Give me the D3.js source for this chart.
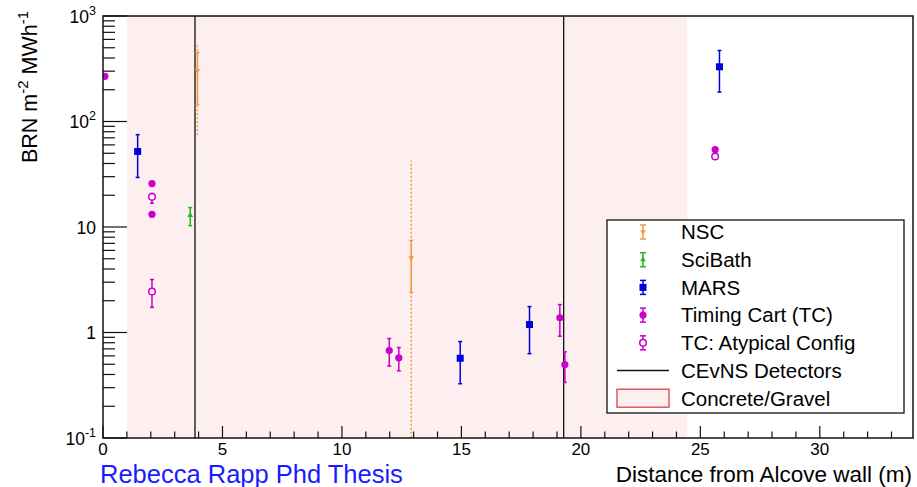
<!DOCTYPE html>
<html>
<head>
<meta charset="utf-8">
<script src="https://cdn.jsdelivr.net/npm/d3@7"></script>
<style>
  body { margin: 0; background: #fff; }
  text { font-family: "Liberation Sans", Arial, sans-serif; }
</style>
</head>
<body>
<div id="graph"></div>
<script>
// NSC (orange, down triangle) - stat and dotted systematic range
var nscX = [3.95, 12.9];
var nscY = [304, 5.1];
var nscLo = [145, 2.4];
var nscHi = [451, 7.45];
var nscSysLo = [74, 0.05];
var nscSysHi = [525, 42.7];

// SciBath (green, triangle)
var sciX = [3.65];
var sciY = [12.9];
var sciLo = [10.3];
var sciHi = [15.3];

// MARS (blue, square)
var marsX = [1.45, 14.95, 17.85, 25.8];
var marsY = [52, 0.57, 1.19, 330];
var marsLo = [29.5, 0.327, 0.63, 190];
var marsHi = [75, 0.82, 1.76, 471];

// Timing cart (magenta, filled circle); null = no error bar
var tcX = [0.08, 2.05, 2.05, 11.98, 12.38, 19.12, 19.33, 25.62];
var tcY = [268, 25.8, 13.2, 0.675, 0.575, 1.38, 0.497, 54.3];
var tcLo = [null, null, null, 0.48, 0.433, 0.923, 0.336, null];
var tcHi = [null, null, null, 0.877, 0.72, 1.84, 0.656, null];

// TC atypical config (magenta, open circle)
var atX = [2.05, 2.05, 25.62];
var atY = [19.3, 2.45, 46.6];
var atLo = [16.8, 1.73, null];
var atHi = [20.8, 3.18, null];

// CEvNS detector positions and concrete/gravel span
var detectorX = [3.85, 19.28];
var concreteX = [1, 24.45];

var xTicks = [0, 5, 10, 15, 20, 25, 30];
var yTicks = [1000, 100, 10, 1, 0.1];
var yTickBase = ["10", "10", "10", "1", "10"];
var yTickSup = ["3", "2", "", "", "-1"];

var legendNames = ["NSC", "SciBath", "MARS", "Timing Cart (TC)", "TC: Atypical Config", "CEvNS Detectors", "Concrete/Gravel"];

var colNSC = "#f39a3e", colSci = "#1fb81f", colMars = "#0000dd", colTC = "#cc00cc";

var W = 917, H = 487;
var margin = {top: 16, right: 4, bottom: 49, left: 103};
var plotW = W - margin.left - margin.right,
    plotH = H - margin.top - margin.bottom;

var svg = d3.select("#graph").append("svg")
    .attr("width", W)
    .attr("height", H);

var x = d3.scaleLinear().domain([0, 33.9]).range([margin.left, margin.left + plotW]);
var y = d3.scaleLog().domain([0.1, 1000]).range([margin.top + plotH, margin.top]);

svg.append("defs").append("clipPath").attr("id", "clip")
  .append("rect")
    .attr("x", margin.left).attr("y", margin.top)
    .attr("width", plotW).attr("height", plotH);

var plot = svg.append("g").attr("clip-path", "url(#clip)");

// Concrete region
plot.append("rect")
    .attr("x", x(concreteX[0]))
    .attr("y", margin.top)
    .attr("width", x(concreteX[1]) - x(concreteX[0]))
    .attr("height", plotH)
    .style("fill", "#fdefef");

// Detector lines
plot.selectAll(".det").data(detectorX).enter().append("line")
    .attr("x1", function(d) { return x(d); })
    .attr("x2", function(d) { return x(d); })
    .attr("y1", margin.top)
    .attr("y2", margin.top + plotH)
    .style("stroke", "#111")
    .style("stroke-width", 1.3);

// helpers
function errBars(xs, ys, lo, hi, color, caps, dash) {
    for (var i = 0; i < xs.length; i++) {
        if (lo[i] == null) continue;
        var cx = x(xs[i]);
        plot.append("line")
            .attr("x1", cx).attr("x2", cx)
            .attr("y1", y(Math.max(lo[i], 0.01))).attr("y2", y(hi[i]))
            .style("stroke", color)
            .style("stroke-width", 1.5)
            .style("stroke-dasharray", dash ? "2,2" : null);
        if (caps) {
            [lo[i], hi[i]].forEach(function(v) {
                plot.append("line")
                    .attr("x1", cx - 2).attr("x2", cx + 2)
                    .attr("y1", y(v)).attr("y2", y(v))
                    .style("stroke", color)
                    .style("stroke-width", 1.5);
            });
        }
    }
}

function symbol(g, type, cx, cy, color) {
    if (type === "circle") {
        g.append("circle").attr("cx", cx).attr("cy", cy).attr("r", 3.6).style("fill", color);
    } else if (type === "open") {
        g.append("circle").attr("cx", cx).attr("cy", cy).attr("r", 3.3)
            .style("fill", "white").style("stroke", color).style("stroke-width", 1.5);
    } else if (type === "square") {
        g.append("rect").attr("x", cx - 3.5).attr("y", cy - 3.5).attr("width", 7).attr("height", 7).style("fill", color);
    } else if (type === "tri") {
        g.append("path").attr("d", d3.symbol().type(d3.symbolTriangle).size(14)())
            .attr("transform", "translate(" + cx + "," + cy + ")").style("fill", color);
    } else if (type === "tridown") {
        g.append("path").attr("d", d3.symbol().type(d3.symbolTriangle).size(14)())
            .attr("transform", "translate(" + cx + "," + cy + ") rotate(180)").style("fill", color);
    }
}

// NSC
errBars(nscX, nscY, nscSysLo, nscSysHi, colNSC, false, true);
errBars(nscX, nscY, nscLo, nscHi, colNSC, true, false);
nscX.forEach(function(d, i) { symbol(plot, "tridown", x(d), y(nscY[i]), colNSC); });

// SciBath
errBars(sciX, sciY, sciLo, sciHi, colSci, true, false);
sciX.forEach(function(d, i) { symbol(plot, "tri", x(d), y(sciY[i]), colSci); });

// MARS
errBars(marsX, marsY, marsLo, marsHi, colMars, true, false);
marsX.forEach(function(d, i) { symbol(plot, "square", x(d), y(marsY[i]), colMars); });

// TC
errBars(tcX, tcY, tcLo, tcHi, colTC, true, false);
tcX.forEach(function(d, i) { symbol(plot, "circle", x(d), y(tcY[i]), colTC); });

// TC atypical
errBars(atX, atY, atLo, atHi, colTC, true, false);
atX.forEach(function(d, i) { symbol(plot, "open", x(d), y(atY[i]), colTC); });

// Frame
svg.append("rect")
    .attr("x", margin.left).attr("y", margin.top)
    .attr("width", plotW).attr("height", plotH)
    .style("fill", "none")
    .style("stroke", "#111")
    .style("stroke-width", 1.5);

// X ticks (major every 5, minor every 1)
var xMinor = d3.range(0, 34, 1);
svg.selectAll(".xt").data(xMinor).enter().append("line")
    .attr("x1", function(d) { return x(d); })
    .attr("x2", function(d) { return x(d); })
    .attr("y1", margin.top + plotH)
    .attr("y2", function(d) { return margin.top + plotH - (d % 5 === 0 ? 12 : 6.5); })
    .style("stroke", "#111")
    .style("stroke-width", 1.2);

svg.selectAll(".xl").data(xTicks).enter().append("text")
    .attr("x", function(d) { return x(d); })
    .attr("y", margin.top + plotH + 16.5)
    .attr("text-anchor", "middle")
    .style("font-size", "17px")
    .text(function(d) { return d; });

// Y ticks (log: major per decade, minor 2..9)
var yMinor = [];
[0.1, 1, 10, 100].forEach(function(dec) {
    for (var k = 2; k <= 9; k++) yMinor.push(dec * k);
});
svg.selectAll(".ymin").data(yMinor).enter().append("line")
    .attr("x1", margin.left).attr("x2", margin.left + 12)
    .attr("y1", function(d) { return y(d); })
    .attr("y2", function(d) { return y(d); })
    .style("stroke", "#111").style("stroke-width", 1.2);
svg.selectAll(".ymaj").data(yTicks).enter().append("line")
    .attr("x1", margin.left).attr("x2", margin.left + 24)
    .attr("y1", function(d) { return y(d); })
    .attr("y2", function(d) { return y(d); })
    .style("stroke", "#111").style("stroke-width", 1.2);

yTicks.forEach(function(d, i) {
    var t = svg.append("text")
        .attr("x", margin.left - 7)
        .attr("y", y(d) + 6.5)
        .attr("text-anchor", "end")
        .style("font-size", "17.5px");
    t.append("tspan").text(yTickBase[i]);
    if (yTickSup[i]) {
        t.append("tspan").attr("dy", -8).style("font-size", "12.5px").text(yTickSup[i]);
    }
});

// Y axis title
var yt = svg.append("text")
    .attr("transform", "translate(36.5,11) rotate(-90)")
    .attr("text-anchor", "end")
    .style("font-size", "21.5px");
yt.append("tspan").text("BRN m");
yt.append("tspan").attr("dy", -9).style("font-size", "15px").text("-2");
yt.append("tspan").attr("dy", 9).text(" MWh");
yt.append("tspan").attr("dy", -9).style("font-size", "15px").text("-1");

// X axis title
svg.append("text")
    .attr("x", 912).attr("y", 482)
    .attr("text-anchor", "end")
    .style("font-size", "22.5px")
    .text("Distance from Alcove wall (m)");

svg.append("text")
    .attr("x", 100).attr("y", 482.5)
    .style("font-size", "25.5px")
    .style("fill", "#1a1aff")
    .text("Rebecca Rapp Phd Thesis");

// Legend
var lg = svg.append("g");
lg.append("rect")
    .attr("x", 607).attr("y", 220)
    .attr("width", 297).attr("height", 193)
    .style("fill", "white")
    .style("stroke", "#111")
    .style("stroke-width", 1.3);

var rowY = d3.range(legendNames.length).map(function(i) { return 232 + i * 27.7; });
var legendSym = ["tridown", "tri", "square", "circle", "open"];
var legendCol = [colNSC, colSci, colMars, colTC, colTC];

legendNames.forEach(function(name, i) {
    lg.append("text")
        .attr("x", 681).attr("y", rowY[i] + 7.3)
        .style("font-size", "20.5px")
        .text(name);
});
legendSym.forEach(function(s, i) {
    var cx = 643, cy = rowY[i];
    lg.append("line").attr("x1", cx).attr("x2", cx).attr("y1", cy - 7).attr("y2", cy + 7)
        .style("stroke", legendCol[i]).style("stroke-width", 1.5);
    [cy - 7, cy + 7].forEach(function(v) {
        lg.append("line").attr("x1", cx - 3).attr("x2", cx + 3).attr("y1", v).attr("y2", v)
            .style("stroke", legendCol[i]).style("stroke-width", 1.5);
    });
    symbol(lg, s, cx, cy, legendCol[i]);
});
lg.append("line")
    .attr("x1", 617).attr("x2", 669)
    .attr("y1", rowY[5]).attr("y2", rowY[5])
    .style("stroke", "#111").style("stroke-width", 1.3);
lg.append("rect")
    .attr("x", 617).attr("y", rowY[6] - 9)
    .attr("width", 52).attr("height", 18)
    .style("fill", "#fdefef")
    .style("stroke", "#d64545")
    .style("stroke-width", 1.3);
</script>
</body>
</html>
